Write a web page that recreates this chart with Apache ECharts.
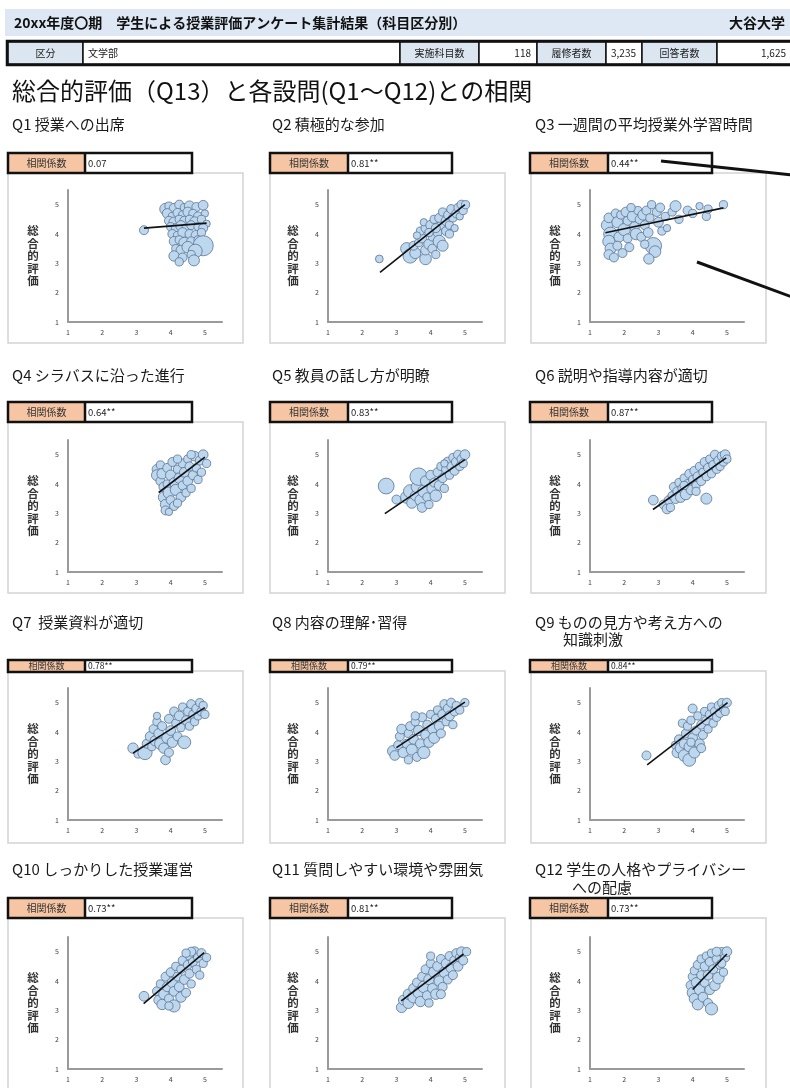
<!DOCTYPE html>
<html><head><meta charset="utf-8">
<script src="https://cdn.jsdelivr.net/npm/echarts@6/dist/echarts.min.js"></script>
<style>html,body{margin:0;padding:0;background:#fff}#c{width:790px;height:1088px}</style>
</head><body><div id="c"></div>
<script>
const FONT = '"Noto Sans CJK JP", "Noto Sans", sans-serif';

// ---- text content ----
const headerTitle = '20xx年度〇期　学生による授業評価アンケート集計結果（科目区分別）';
const universityName = '大谷大学';
const infoLabels = ['区分', '実施科目数', '履修者数', '回答者数'];
const infoValues = ['文学部', '118', '3,235', '1,625'];
const mainTitle = '総合的評価（Q13）と各設問(Q1～Q12)との相関';
const questionTitles = [
  ['Q1 授業への出席'], ['Q2 積極的な参加'], ['Q3 一週間の平均授業外学習時間'],
  ['Q4 シラバスに沿った進行'], ['Q5 教員の話し方が明瞭'], ['Q6 説明や指導内容が適切'],
  ['Q7  授業資料が適切'], ['Q8 内容の理解･習得'], ['Q9 ものの見方や考え方への', '知識刺激'],
  ['Q10 しっかりした授業運営'], ['Q11 質問しやすい環境や雰囲気'], ['Q12 学生の人格やプライバシー', 'への配慮']
];
const coefLabel = '相関係数';
const coefficients = ['0.07', '0.81**', '0.44**', '0.64**', '0.83**', '0.87**', '0.78**', '0.79**', '0.84**', '0.73**', '0.81**', '0.73**'];
const yAxisName = '総合的評価';
const axisTicks = [1, 2, 3, 4, 5];

// ---- bubble data: [設問平均, 総合的評価, 回答者数] ----
const q1Points = [[3.22,4.13,12],[3.85,4.85,20],[3.95,4.95,10],[4.1,4.88,14],[4.25,5.0,12],[4.4,4.9,10],[4.55,4.95,16],[4.75,4.92,12],[4.95,4.98,14],[3.9,4.7,14],[4.05,4.6,10],[4.2,4.72,12],[4.35,4.65,10],[4.5,4.75,14],[4.65,4.7,10],[4.8,4.6,12],[5.0,4.7,8],[3.95,4.45,12],[4.1,4.4,16],[4.25,4.5,10],[4.4,4.45,12],[4.55,4.5,10],[4.7,4.42,14],[4.9,4.5,10],[5.05,4.35,8],[4.0,4.25,10],[4.15,4.2,12],[4.3,4.28,16],[4.45,4.2,10],[4.6,4.3,12],[4.8,4.25,10],[4.95,4.2,12],[4.05,4.0,12],[4.2,3.95,10],[4.35,4.05,14],[4.55,4.0,12],[4.75,3.95,16],[4.9,4.05,10],[4.1,3.75,14],[4.25,3.8,10],[4.4,3.7,18],[4.6,3.75,12],[4.8,3.8,10],[4.95,3.6,60],[4.15,3.5,10],[4.3,3.45,14],[4.5,3.55,20],[4.72,3.42,28],[4.1,3.25,16],[4.35,3.2,12],[4.6,3.3,10],[4.68,3.1,18],[4.25,3.05,10]];
const q2Points = [[2.5,3.15,9],[3.3,3.5,22],[3.4,3.25,30],[3.55,3.35,18],[3.5,3.6,12],[3.65,3.7,10],[3.85,3.15,20],[3.85,3.45,14],[3.75,3.85,12],[3.7,4.1,10],[3.85,4.2,12],[3.8,4.4,8],[3.95,3.65,16],[4.05,3.5,12],[4.05,3.9,10],[4.0,4.3,14],[4.1,4.5,10],[4.2,4.05,12],[4.25,3.75,22],[4.35,3.6,18],[4.3,4.3,10],[4.25,4.55,12],[4.35,4.75,10],[4.45,4.1,12],[4.45,4.45,14],[4.5,4.65,10],[4.55,4.3,10],[4.6,4.85,12],[4.65,4.55,10],[4.7,4.2,8],[4.75,4.7,12],[4.8,4.9,10],[4.85,4.6,8],[4.9,5.0,12],[4.95,4.8,10],[5.02,5.0,10],[4.15,4.2,12],[3.95,4.05,10],[4.55,4.0,10],[3.6,3.95,8],[4.15,3.3,10]];
const q3Points = [[1.5,4.3,20],[1.55,4.55,14],[1.6,4.0,28],[1.55,3.75,22],[1.6,3.5,18],[1.55,3.3,14],[1.7,3.2,12],[1.75,4.7,12],[1.8,4.4,18],[1.85,3.9,16],[1.8,3.6,12],[1.9,4.65,10],[2.0,4.15,22],[2.05,4.75,14],[2.1,4.45,12],[2.1,3.85,12],[2.15,3.55,12],[2.25,4.6,18],[2.3,4.25,14],[2.35,4.0,20],[2.4,4.8,10],[2.45,4.5,12],[2.5,3.9,12],[2.55,4.65,16],[2.6,4.3,12],[2.65,4.8,12],[2.7,4.05,14],[2.75,4.55,10],[2.8,5.0,10],[2.85,3.6,40],[2.9,3.4,20],[2.72,3.15,16],[2.95,4.75,12],[3.0,4.4,14],[3.05,4.9,12],[3.1,4.1,10],[3.2,4.6,10],[3.25,4.2,8],[3.4,4.75,10],[3.5,4.95,18],[3.6,4.5,10],[3.85,4.8,12],[4.0,4.7,10],[4.2,4.95,8],[4.4,4.6,10],[4.45,4.85,10],[4.9,5.0,10],[2.2,4.9,10],[1.95,3.35,12],[2.6,3.65,10]];
const q4Points = [[3.6,4.5,14],[3.6,4.3,18],[3.7,4.65,10],[3.7,4.1,12],[3.75,4.35,16],[3.8,3.9,14],[3.8,3.55,18],[3.85,3.3,16],[3.85,3.1,12],[3.9,4.55,12],[3.9,4.0,10],[3.95,3.7,20],[4.0,4.3,16],[4.0,3.45,12],[4.05,4.75,12],[4.1,4.05,14],[4.1,3.25,12],[4.15,3.8,18],[4.2,4.5,10],[4.25,4.2,16],[4.3,3.55,14],[4.35,4.7,12],[4.35,3.95,12],[4.4,4.4,14],[4.45,3.7,10],[4.5,4.85,10],[4.5,4.1,14],[4.55,4.6,12],[4.6,3.85,10],[4.65,4.3,12],[4.7,4.95,14],[4.75,4.55,10],[4.8,4.15,10],[4.85,4.8,12],[4.9,4.4,10],[4.95,5.0,14],[5.05,4.7,10],[4.6,5.0,10],[4.2,4.85,10],[3.95,3.05,8],[4.2,3.35,10]];
const q5Points = [[2.7,3.93,37],[3.0,3.47,12],[3.3,3.55,22],[3.4,3.75,26],[3.45,3.35,16],[3.55,3.6,14],[3.6,3.9,20],[3.65,4.25,45],[3.7,3.45,18],[3.75,3.2,14],[3.8,3.75,22],[3.85,4.1,16],[3.9,3.55,12],[4.0,4.3,14],[4.05,3.85,18],[4.1,4.05,12],[4.15,3.6,20],[4.2,4.4,12],[4.25,3.95,14],[4.3,4.6,10],[4.35,4.2,12],[4.4,3.85,10],[4.45,4.5,12],[4.5,4.75,14],[4.55,4.3,10],[4.6,4.6,12],[4.65,4.9,10],[4.7,4.45,12],[4.75,4.75,14],[4.8,5.0,12],[4.85,4.6,10],[4.9,4.85,12],[5.0,5.0,14],[4.95,4.7,10],[4.4,4.7,8],[3.95,3.3,10]];
const q6Points = [[2.85,3.45,14],[3.15,3.3,12],[3.25,3.15,14],[3.3,3.45,12],[3.35,3.2,10],[3.4,3.6,10],[3.45,3.9,12],[3.5,3.5,14],[3.55,3.75,12],[3.6,4.05,10],[3.65,3.55,16],[3.7,3.85,12],[3.75,4.2,10],[3.8,3.65,18],[3.85,4.0,12],[3.9,4.35,12],[3.95,3.8,14],[4.0,4.15,10],[4.05,4.45,12],[4.1,3.95,10],[4.15,4.25,14],[4.2,4.6,10],[4.25,4.1,12],[4.3,4.4,10],[4.35,4.75,12],[4.4,4.25,10],[4.4,3.5,18],[4.45,4.55,12],[4.5,4.85,10],[4.55,4.35,10],[4.6,4.65,12],[4.65,5.0,12],[4.7,4.5,10],[4.75,4.8,12],[4.8,4.6,10],[4.85,4.95,12],[4.9,4.75,10],[4.95,5.0,14],[5.0,4.85,10],[4.1,3.75,10],[3.75,3.95,10]];
const q7Points = [[2.9,3.45,16],[3.05,3.25,10],[3.25,3.3,30],[3.3,3.6,12],[3.4,3.85,14],[3.45,3.5,10],[3.5,4.1,12],[3.55,3.7,16],[3.6,4.35,10],[3.65,3.95,14],[3.7,3.6,20],[3.75,4.2,12],[3.8,3.45,16],[3.85,3.05,14],[3.9,3.8,18],[3.95,4.45,12],[4.0,4.05,14],[4.05,3.65,16],[4.1,4.7,12],[4.15,4.3,10],[4.2,3.85,12],[4.25,4.55,14],[4.3,4.15,10],[4.35,4.85,10],[4.4,3.65,24],[4.45,4.4,12],[4.5,4.7,10],[4.55,4.2,10],[4.6,4.95,12],[4.65,4.6,10],[4.7,4.35,10],[4.75,4.8,12],[4.8,4.55,10],[4.85,5.0,10],[4.9,4.7,12],[4.95,4.9,10],[5.0,4.6,10],[3.6,4.55,8],[3.95,3.3,12]];
const q8Points = [[2.9,3.35,18],[2.95,3.2,14],[3.05,3.55,12],[3.1,3.85,12],[3.15,4.1,14],[3.2,3.3,16],[3.3,3.6,12],[3.35,3.95,10],[3.4,4.2,12],[3.45,3.4,18],[3.5,3.75,14],[3.55,4.35,10],[3.6,3.15,12],[3.65,4.05,16],[3.7,3.6,14],[3.75,4.5,12],[3.8,3.3,22],[3.85,3.9,14],[3.9,4.25,12],[3.95,3.65,16],[4.0,4.6,10],[4.05,4.1,14],[4.1,3.8,18],[4.15,4.45,12],[4.2,4.75,10],[4.25,4.2,14],[4.3,3.95,12],[4.35,4.6,14],[4.4,4.95,12],[4.45,4.35,10],[4.5,4.8,12],[4.55,4.55,14],[4.6,5.0,12],[4.65,4.25,10],[4.7,4.7,12],[4.75,4.9,10],[4.85,4.75,10],[5.0,5.0,10],[3.55,4.55,10],[3.35,3.05,10]];
const q9Points = [[2.65,3.2,12],[3.5,3.55,10],[3.55,3.3,16],[3.6,3.75,12],[3.65,3.45,18],[3.7,4.3,10],[3.75,3.6,14],[3.75,3.2,20],[3.8,3.95,12],[3.85,4.2,10],[3.9,3.05,24],[3.9,3.5,16],[3.95,4.4,10],[4.0,4.8,12],[4.0,3.8,14],[4.05,3.3,18],[4.1,4.05,12],[4.15,4.55,10],[4.2,3.6,14],[4.25,4.25,12],[4.3,3.9,12],[4.35,4.7,10],[4.4,4.4,12],[4.45,4.1,10],[4.5,4.6,12],[4.55,4.85,10],[4.6,4.3,10],[4.65,4.7,12],[4.7,4.5,10],[4.75,4.9,10],[4.8,4.65,12],[4.85,5.0,10],[4.9,4.8,10],[5.0,5.0,12],[4.95,4.7,10],[3.95,3.65,10],[4.25,3.45,12]];
const q10Points = [[3.22,3.48,14],[3.6,3.65,12],[3.65,3.35,14],[3.75,3.2,16],[3.7,3.9,10],[3.8,3.55,16],[3.85,4.15,12],[3.9,3.8,14],[3.95,3.4,12],[4.0,4.3,12],[4.05,3.95,16],[4.1,3.15,22],[4.1,3.65,14],[4.15,4.5,10],[4.2,4.15,12],[4.25,3.8,14],[4.3,3.45,16],[4.3,4.4,10],[4.35,4.7,12],[4.4,4.05,14],[4.45,3.6,12],[4.5,4.55,12],[4.55,4.85,10],[4.55,4.25,12],[4.6,3.9,10],[4.65,4.65,12],[4.7,5.0,14],[4.75,4.4,10],[4.8,4.8,12],[4.85,4.2,10],[4.9,4.95,12],[4.95,4.6,10],[5.05,4.8,10],[4.6,5.0,12],[4.45,4.95,10],[3.95,3.15,10]];
const q11Points = [[3.15,3.1,16],[3.2,3.35,14],[3.35,3.25,18],[3.35,3.55,16],[3.5,3.45,20],[3.5,3.75,14],[3.6,3.95,12],[3.65,3.6,18],[3.7,3.3,16],[3.75,4.15,12],[3.8,3.8,20],[3.85,4.4,12],[3.9,3.5,14],[3.95,4.05,16],[4.0,4.6,12],[4.05,3.75,14],[4.1,4.3,18],[4.15,3.55,16],[4.2,4.5,14],[4.25,4.0,16],[4.3,4.75,12],[4.35,3.8,12],[4.4,4.3,16],[4.45,4.6,14],[4.5,4.05,12],[4.55,4.85,12],[4.6,4.45,16],[4.65,4.2,12],[4.7,4.7,14],[4.75,4.95,12],[4.8,4.5,14],[4.85,4.8,12],[4.9,5.0,14],[4.95,4.7,12],[5.05,5.0,10],[4.0,4.85,10],[3.95,3.25,10],[4.3,3.55,12]];
const q12Points = [[3.95,3.85,14],[4.0,3.6,18],[4.0,4.15,12],[4.05,3.4,16],[4.05,4.35,10],[4.1,3.95,14],[4.15,3.2,18],[4.15,4.55,12],[4.2,3.7,16],[4.25,4.2,12],[4.25,4.75,10],[4.3,3.45,14],[4.35,3.95,12],[4.35,4.5,12],[4.4,4.85,10],[4.45,3.25,12],[4.45,4.2,14],[4.5,3.7,14],[4.5,4.65,12],[4.55,3.05,22],[4.55,4.95,10],[4.6,4.4,12],[4.65,3.85,16],[4.7,4.75,12],[4.75,4.1,20],[4.8,4.55,12],[4.85,5.0,10],[4.9,4.3,10],[4.95,4.8,12],[5.0,5.0,14],[4.7,5.0,12],[4.85,4.6,10]];
const panelPoints = [q1Points,q2Points,q3Points,q4Points,q5Points,q6Points,q7Points,q8Points,q9Points,q10Points,q11Points,q12Points];

// ---- regression (近似直線) end points ----
const trendLines = [
  [[3.22,4.2],[5.05,4.37]], [[2.52,2.69],[5.0,5.0]], [[1.45,4.04],[4.9,4.89]],
  [[3.65,3.71],[5.0,4.92]], [[2.66,2.99],[5.0,4.83]], [[2.84,3.13],[4.98,4.89]],
  [[2.9,3.28],[5.0,4.83]], [[3.0,3.47],[5.0,5.02]], [[2.67,2.88],[5.02,5.0]],
  [[3.21,3.23],[4.98,4.97]], [[3.14,3.32],[4.96,4.92]], [[4.0,3.71],[5.0,4.92]]
];

// ---- layout ----
const colAxisX = [68, 328, 590];
const rowGridTop = [190, 440, 688, 937];
const GW = 154, GH = 132;
const colBox = [[8,243],[270,505],[531,766]];
const rowBox = [[173,343],[422,593],[671,843],[918,1100]];
const colCoef = [[8,85,192],[270,348,452],[530,608,712]];
const rowCoef = [[153,173],[402,422],[660,672],[898,918]];
const colTitleX = [12, 272, 535];
const rowTitleY = [124, 375, 622, 869];
const secondLineIndent = {8: 28, 11: 37};
const secondLineDy = {8: 17, 11: 18};

const grids = [], xAxes = [], yAxes = [], series = [], graphics = [];
const tickFmt = v => (axisTicks.indexOf(v) >= 0 ? String(v) : '');

// header
graphics.push({type:'rect', shape:{x:5,y:9,width:785,height:27}, style:{fill:'#dde8f4'}});
graphics.push({type:'text', x:14, y:22.5, style:{text:headerTitle, fontSize:14, fontWeight:'bold', fontFamily:FONT, fill:'#111', verticalAlign:'middle'}});
graphics.push({type:'text', x:785, y:22.5, style:{text:universityName, fontSize:14, fontWeight:'bold', fontFamily:FONT, fill:'#111', align:'right', verticalAlign:'middle'}});
const cellEdges = [8, 83, 400, 479, 537, 606, 642, 717, 792];
for (let k = 0; k < 8; k++) {
  const isLabel = k % 2 === 0;
  graphics.push({type:'rect', shape:{x:cellEdges[k], y:42, width:cellEdges[k+1]-cellEdges[k], height:22},
    style:{fill: isLabel ? '#dce6f1' : '#ffffff', stroke:'#111', lineWidth:1.5}});
  const txt = isLabel ? infoLabels[k/2] : infoValues[(k-1)/2];
  let x, align;
  if (isLabel) { x = (cellEdges[k]+cellEdges[k+1])/2; align = 'center'; }
  else if (k === 1) { x = cellEdges[k]+5; align = 'left'; }
  else { x = cellEdges[k+1]-6; align = 'right'; }
  graphics.push({type:'text', x:x, y:53, style:{text:txt, fontSize:10, fontFamily:FONT, fill:'#222', align:align, verticalAlign:'middle'}});
}
graphics.push({type:'rect', shape:{x:7,y:41,width:786,height:24}, style:{fill:null, stroke:'#111', lineWidth:2.5}});
graphics.push({type:'text', x:12, y:91, style:{text:mainTitle, fontSize:24, fontFamily:FONT, fill:'#111', verticalAlign:'middle'}});

for (let i = 0; i < 12; i++) {
  const r = Math.floor(i / 3), c = i % 3;
  graphics.push({type:'rect', shape:{x:colBox[c][0], y:rowBox[r][0], width:colBox[c][1]-colBox[c][0], height:rowBox[r][1]-rowBox[r][0]},
    style:{fill:null, stroke:'#d4d4d4', lineWidth:1.5}});
  const t = questionTitles[i];
  graphics.push({type:'text', x:colTitleX[c], y:rowTitleY[r], style:{text:t[0], fontSize:15, fontFamily:FONT, fill:'#1a1a1a', verticalAlign:'middle'}});
  if (t.length > 1) {
    graphics.push({type:'text', x:colTitleX[c] + secondLineIndent[i], y:rowTitleY[r] + secondLineDy[i], style:{text:t[1], fontSize:15, fontFamily:FONT, fill:'#1a1a1a', verticalAlign:'middle'}});
  }
  const cx = colCoef[c], cy = rowCoef[r], ch = cy[1]-cy[0];
  graphics.push({type:'rect', shape:{x:cx[0], y:cy[0], width:cx[1]-cx[0], height:ch}, style:{fill:'#f6c6a4'}});
  graphics.push({type:'rect', shape:{x:cx[1], y:cy[0], width:cx[2]-cx[1], height:ch}, style:{fill:'#ffffff'}});
  graphics.push({type:'line', shape:{x1:cx[1], y1:cy[0], x2:cx[1], y2:cy[1]}, style:{stroke:'#111', lineWidth:2.5}});
  graphics.push({type:'rect', shape:{x:cx[0], y:cy[0], width:cx[2]-cx[0], height:ch}, style:{fill:null, stroke:'#111', lineWidth:2.5}});
  const fs = ch < 15 ? 9 : 10;
  graphics.push({type:'text', x:(cx[0]+cx[1])/2, y:(cy[0]+cy[1])/2, style:{text:coefLabel, fontSize:fs, fontFamily:FONT, fill:'#333', align:'center', verticalAlign:'middle'}});
  graphics.push({type:'text', x:cx[1]+3, y:(cy[0]+cy[1])/2, style:{text:coefficients[i], fontSize:fs-0.5, fontFamily:FONT, fill:'#222', verticalAlign:'middle'}});

  grids.push({left:colAxisX[c], top:rowGridTop[r], width:GW, height:GH, outerBoundsMode:'none', containLabel:false});
  const common = {gridIndex:i, type:'value', min:1, max:5.5, interval:1,
    axisLine:{show:true, onZero:false, lineStyle:{color:'#9a9a9a', width:2}},
    axisTick:{show:false}, splitLine:{show:false},
    axisLabel:{fontSize:7, color:'#444', fontFamily:FONT, formatter:tickFmt}};
  xAxes.push(Object.assign({}, common, {axisLabel:Object.assign({}, common.axisLabel, {margin:7})}));
  yAxes.push(Object.assign({}, common, {axisLabel:Object.assign({}, common.axisLabel, {margin:9}),
    name:yAxisName.split('').join('\n'), nameLocation:'middle', nameRotate:0, nameGap:35,
    nameTextStyle:{fontSize:11.5, lineHeight:12.5, fontWeight:'bold', color:'#333', fontFamily:FONT, align:'center', verticalAlign:'middle'}}));
  series.push({type:'scatter', xAxisIndex:i, yAxisIndex:i, data:panelPoints[i],
    symbolSize: v => Math.sqrt(v[2]) * 2.6,
    itemStyle:{color:'#bdd7ee', borderColor:'#5a7393', borderWidth:0.8, opacity:1},
    emphasis:{disabled:true}, z:2});
  series.push({type:'line', xAxisIndex:i, yAxisIndex:i, data:trendLines[i], symbol:'none',
    lineStyle:{color:'#111', width:1.6}, emphasis:{disabled:true}, z:3});
}

// callout lines at the Q3 panel (cut by the page edge)
graphics.push({type:'line', shape:{x1:661, y1:161, x2:792, y2:175}, style:{stroke:'#111', lineWidth:3}, z:10});
graphics.push({type:'line', shape:{x1:697, y1:262, x2:792, y2:297}, style:{stroke:'#111', lineWidth:3}, z:10});

const chart = echarts.init(document.getElementById('c'), null, {renderer:'canvas', width:790, height:1088});
chart.setOption({
  animation:false, backgroundColor:'#ffffff',
  grid:grids, xAxis:xAxes, yAxis:yAxes, series:series,
  graphic:{elements:graphics}
});
</script>
</body></html>
